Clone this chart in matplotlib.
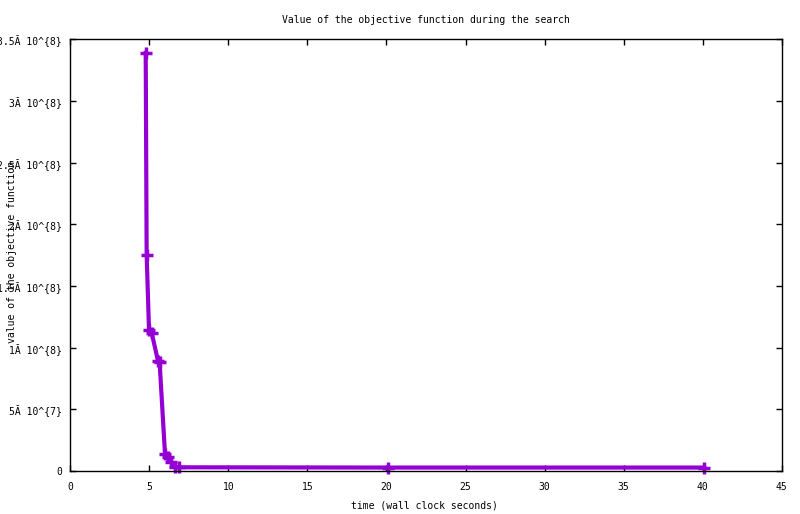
import matplotlib
matplotlib.use("Agg")
import matplotlib.pyplot as plt

# data
time_s = [4.77, 4.83, 4.98, 5.15, 5.55, 5.65, 5.99, 6.2, 6.35, 6.6, 6.85, 20.1, 40.1]
objective = [3.39e8, 1.75e8, 1.14e8, 1.12e8, 0.89e8, 0.88e8, 0.14e8, 0.115e8,
             0.075e8, 0.035e8, 0.03e8, 0.028e8, 0.028e8]
x_ticks = [0, 5, 10, 15, 20, 25, 30, 35, 40, 45]
y_ticks = [0, 0.5e8, 1e8, 1.5e8, 2e8, 2.5e8, 3e8, 3.5e8]
y_tick_labels = ["0", "5Ă 10^{7}", "1Ă 10^{8}", "1.5Ă 10^{8}", "2Ă 10^{8}",
                 "2.5Ă 10^{8}", "3Ă 10^{8}", "3.5Ă 10^{8}"]
title = "Value of the objective function during the search"
x_label = "time (wall clock seconds)"
y_label = "value of the objective function"

plt.rcParams['font.family'] = ['DejaVu Sans Mono']
plt.rcParams['font.size'] = 7

fig = plt.figure(figsize=(8.0, 5.14), dpi=100)
ax = fig.add_axes([70.3/800, 43/514, (781.7-70.3)/800, (471-39.3)/514])

color = "#9400D3"
ax.plot(time_s, objective, color=color, lw=3, marker='+', ms=8, mew=2.5,
        solid_joinstyle='miter', clip_on=False)

ax.set_xlim(0, 45)
ax.set_ylim(0, 3.5e8)
ax.set_xticks(x_ticks)
ax.set_xticklabels([str(t) for t in x_ticks])
ax.set_yticks(y_ticks)
ax.set_yticklabels(y_tick_labels)
ax.tick_params(direction='in', length=4, width=1, top=True, right=True,
               labelsize=7, colors='black')
ax.tick_params(axis='y', pad=6)
ax.tick_params(axis='x', pad=8)
for s in ax.spines.values():
    s.set_linewidth(1)

fig.text(426/800, 1 - 20/514, title, ha='center', va='center', fontsize=7)
fig.text(424/800, 1 - 505/514, x_label, ha='center', va='center', fontsize=7)
fig.text(12/800, 1 - 252/514, y_label, ha='center', va='center', rotation=90, fontsize=7)

fig.savefig("out.png", dpi=100)
